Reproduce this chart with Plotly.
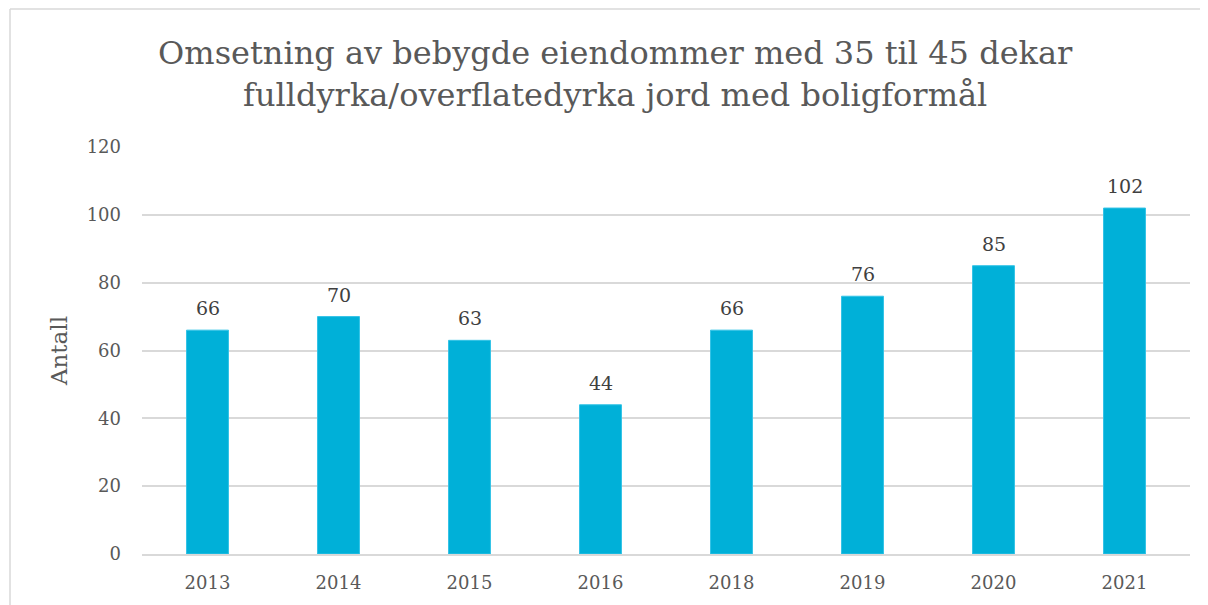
import plotly.graph_objects as go

years = ["2013", "2014", "2015", "2016", "2018", "2019", "2020", "2021"]
values = [66, 70, 63, 44, 66, 76, 85, 102]
y_ticks = [0, 20, 40, 60, 80, 100, 120]

title_text = "Omsetning av bebygde eiendommer med 35 til 45 dekar<br>fulldyrka/overflatedyrka jord med boligformål"
FONT = "DejaVu Serif"

W, H = 1200, 597
L, R, T, B = 134, 18, 139, 51
PW, PH = W - L - R, H - T - B

fig = go.Figure()
fig.add_trace(go.Bar(
    x=years, y=values,
    marker=dict(color="#00B0D8", line=dict(color="#33C3E6", width=1)),
    hoverinfo="x+y",
))

for i, v in enumerate(values):
    fig.add_annotation(x=i, y=v, xref="x", yref="y", text=str(v), showarrow=False,
                       yanchor="bottom", yshift=9,
                       font=dict(family=FONT, size=19, color="#404040"))

x_left = (2 - L) / PW
y_top = (PH + T - 1) / PH

fig.update_layout(
    width=W, height=H,
    font=dict(family=FONT, color="#595959"),
    paper_bgcolor="white", plot_bgcolor="white",
    margin=dict(l=L, r=R, t=T, b=B),
    bargap=0.68,
    showlegend=False,
    title=dict(text=title_text, x=0.506, xanchor="center", y=0.906, yanchor="middle",
               font=dict(family=FONT, size=32, color="#595959")),
    xaxis=dict(type="category", range=[-0.5, len(years) - 0.5],
               tickfont=dict(family=FONT, size=18, color="#595959"),
               ticklabelstandoff=12,
               showline=True, linecolor="#d9d9d9", linewidth=1.5, ticks="", showgrid=False),
    yaxis=dict(range=[0, 120], tickvals=y_ticks, tickfont=dict(family=FONT, size=18, color="#595959"),
               showgrid=True, gridcolor="#d9d9d9", gridwidth=1.5, zeroline=False,
               ticklabelstandoff=20,
               title=dict(text="Antall", font=dict(family=FONT, size=23, color="#595959"), standoff=12)),
    shapes=[
        dict(type="line", xref="paper", yref="paper", x0=x_left, x1=x_left, y0=-0.3, y1=y_top,
             line=dict(color="#d9d9d9", width=1.5), layer="below"),
        dict(type="line", xref="paper", yref="paper", x0=x_left, x1=1.5, y0=y_top, y1=y_top,
             line=dict(color="#d9d9d9", width=1.5), layer="below"),
    ],
)

fig.write_html("out.html")
